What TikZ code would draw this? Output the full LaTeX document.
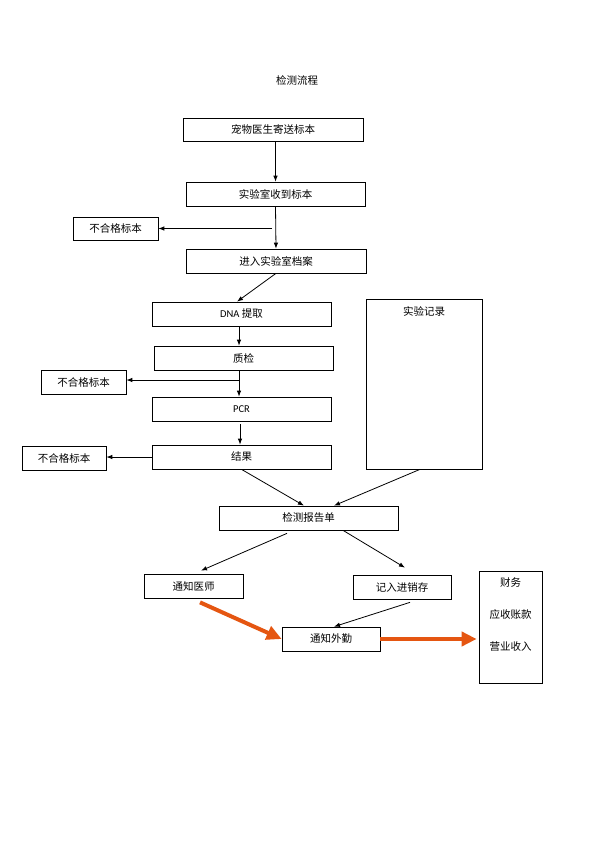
\documentclass[tikz,border=0pt]{standalone}
\usepackage{fontspec}
\setmainfont{Carlito}
\newfontfamily\cjk{Noto Sans CJK SC}
\newfontfamily\lat{Carlito}
\usetikzlibrary{arrows.meta}
\definecolor{flow}{RGB}{229,86,17}
\begin{document}
\begin{tikzpicture}[x=1pt, y=-1pt,
    font=\cjk\fontsize{10.5}{12}\selectfont,
    box/.style={draw, line width=0.7pt, minimum height=24pt, inner sep=0pt},
    arr/.style={-{Latex[length=6pt,width=4.5pt]}, line width=0.8pt},
    bigarr/.style={-{Triangle[length=15pt,width=14pt]}, line width=4pt, flow}]
    \useasboundingbox (0,0) rectangle (595,842);

    \node (title) at (297,80) {检测流程};

    \node (send) at (273,129.5) [box, minimum width=180pt, minimum height=23pt] {宠物医生寄送标本};
    \node (recv) at (275.5,194) [box, minimum width=179pt] {实验室收到标本};
    \node (rejA) at (115.5,228.5) [box, minimum width=85pt, minimum height=23pt] {不合格标本};
    \node (file) at (276,261) [box, minimum width=180pt] {进入实验室档案};
    \node (dna) at (241.5,314) [box, minimum width=179pt] {{\lat DNA} 提取};
    \node (qc) at (243.5,358) [box, minimum width=179pt] {质检};
    \node (rejB) at (83.5,382) [box, minimum width=85pt] {不合格标本};
    \node (pcr) at (241.5,409) [box, minimum width=179pt] {\lat PCR};
    \node (res) at (241.5,457) [box, minimum width=179pt] {结果};
    \node (rejC) at (64,458) [box, minimum width=84pt] {不合格标本};
    \node (log) at (424,384) [box, minimum width=116pt, minimum height=170pt,
        label={[anchor=center, yshift=-13pt]north:实验记录}] {};

    \node (report) at (308.5,518) [box, minimum width=179pt] {检测报告单};
    \node (vet) at (193.5,586) [box, minimum width=99pt] {通知医师};
    \node (stock) at (402,587) [box, minimum width=98pt] {记入进销存};
    \node (field) at (331,639) [box, minimum width=98pt] {通知外勤};
    \node (fin) at (510.5,627) [box, minimum width=63pt, minimum height=112pt,
        label={[anchor=center, yshift=-12pt]north:财务},
        label={[anchor=center, yshift=-44pt]north:应收账款},
        label={[anchor=center, yshift=-76pt]north:营业收入}] {};

    \coordinate (cutA) at (272,228.5);
    \coordinate (cutB) at (239,380);

    % main line
    \draw [arr] (recv.north |- send.south) -- (recv.north);
    \draw [arr] (recv.south) -- (file.north);
    \draw [arr] (cutA) -- (rejA.east);
    \draw [arr] (file.south) -- ([xshift=-4.5pt]dna.north);
    \draw [arr] ([xshift=-2.5pt]dna.south) -- ([xshift=-4.5pt]qc.north);
    \draw [arr] ([xshift=-4.5pt]qc.south) -- ([xshift=-2.5pt]pcr.north);
    \draw [arr] (cutB) -- (rejB.east |- cutB);
    \draw [arr] ([xshift=-1.5pt,yshift=-3pt]pcr.south) -- ([xshift=-1.5pt]res.north);
    \draw [arr] (res.west) -- (rejC.east |- res.west);
    \draw [arr] (res.south) -- ([xshift=-4.5pt]report.north);
    \draw [arr] ([xshift=-4pt]log.south) -- ([xshift=25.5pt]report.north);

    % after report
    \draw [arr] ([xshift=-21.5pt,yshift=-3pt]report.south) -- ([xshift=7.5pt,yshift=3pt]vet.north);
    \draw [arr] ([xshift=34.5pt]report.south) -- ([xshift=3pt,yshift=7pt]stock.north);
    \draw [arr] ([xshift=8pt,yshift=-3pt]stock.south) -- ([xshift=3pt]field.north);
    \draw [bigarr] ([xshift=6.5pt,yshift=-4pt]vet.south) -- (field.west);
    \draw [bigarr] (field.east) -- ([xshift=-2pt]fin.west |- field.east);
\end{tikzpicture}
\end{document}
